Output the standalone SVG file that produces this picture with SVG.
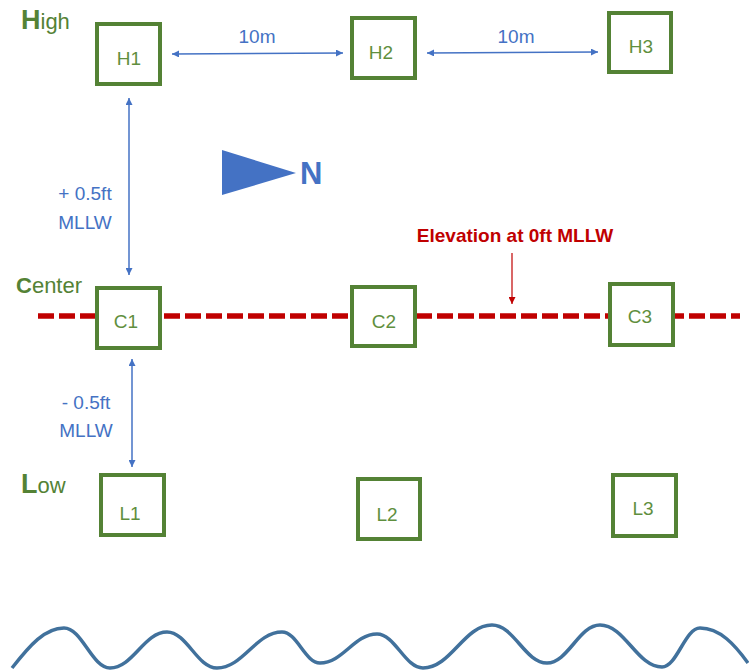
<svg xmlns="http://www.w3.org/2000/svg" width="749" height="672" viewBox="0 0 749 672">
<style>
.box{fill:#fff;stroke:#548235;stroke-width:4}
.nl{font-family:"Liberation Sans",Arial,sans-serif;font-size:19px;fill:#5f8f3e;text-anchor:middle}
.row{font-family:"Liberation Sans",Arial,sans-serif;fill:#548235}
.bl{font-family:"Liberation Sans",Arial,sans-serif;font-size:19px;fill:#4472C4;text-anchor:middle}
.conn{stroke:#4472C4;stroke-width:1.5;fill:none}
</style>
<defs>
<marker id="ab" viewBox="0 0 10 10" refX="10" refY="5" markerWidth="7" markerHeight="7" markerUnits="userSpaceOnUse" orient="auto-start-reverse"><path d="M0,0 L10,5 L0,10 z" fill="#4472C4"/></marker>
<marker id="ar" viewBox="0 0 10 10" refX="10" refY="5" markerWidth="7" markerHeight="7" markerUnits="userSpaceOnUse" orient="auto"><path d="M0,0 L10,5 L0,10 z" fill="#C00000"/></marker>
</defs>
<rect width="749" height="672" fill="#fff"/>
<g id="elevation-line">
<line x1="38" y1="316" x2="740" y2="316" stroke="#C00000" stroke-width="5.5" stroke-dasharray="16 5"/>
</g>
<g id="row-labels">
<text class="row" x="21" y="29"><tspan font-weight="bold" font-size="27">H</tspan><tspan font-size="22">igh</tspan></text>
<text class="row" x="16" y="293"><tspan font-weight="bold" font-size="22">C</tspan><tspan font-size="22">enter</tspan></text>
<text class="row" x="21" y="493"><tspan font-weight="bold" font-size="27">L</tspan><tspan font-size="22">ow</tspan></text>
</g>
<g id="H1"><rect class="box" x="97" y="24" width="63" height="60"/><text class="nl" x="129" y="65">H1</text></g>
<g id="H2"><rect class="box" x="352" y="18" width="63" height="60"/><text class="nl" x="381" y="59">H2</text></g>
<g id="H3"><rect class="box" x="609" y="13" width="62" height="59"/><text class="nl" x="641" y="53">H3</text></g>
<g id="C1"><rect class="box" x="97" y="288" width="63" height="60"/><text class="nl" x="126" y="328">C1</text></g>
<g id="C2"><rect class="box" x="352" y="287" width="63" height="59"/><text class="nl" x="384" y="328">C2</text></g>
<g id="C3"><rect class="box" x="610" y="284" width="63" height="61"/><text class="nl" x="640" y="323">C3</text></g>
<g id="L1"><rect class="box" x="101" y="475" width="63" height="60"/><text class="nl" x="130" y="520">L1</text></g>
<g id="L2"><rect class="box" x="358" y="479" width="62" height="60"/><text class="nl" x="387" y="521">L2</text></g>
<g id="L3"><rect class="box" x="613" y="475" width="63" height="61"/><text class="nl" x="643" y="515">L3</text></g>
<g id="connectors">
<line class="conn" x1="172" y1="54" x2="343" y2="53" marker-start="url(#ab)" marker-end="url(#ab)"/>
<line class="conn" x1="427" y1="53" x2="598" y2="52" marker-start="url(#ab)" marker-end="url(#ab)"/>
<line class="conn" x1="129" y1="98" x2="129" y2="275" marker-start="url(#ab)" marker-end="url(#ab)"/>
<line class="conn" x1="132" y1="359" x2="132" y2="467" marker-start="url(#ab)" marker-end="url(#ab)"/>
<line x1="512" y1="253" x2="512" y2="304" stroke="#C00000" stroke-width="1.2" marker-end="url(#ar)"/>
</g>
<g id="labels">
<text class="bl" x="257" y="43">10m</text>
<text class="bl" x="516" y="43">10m</text>
<text class="bl" x="85" y="200">+ 0.5ft</text>
<text class="bl" x="85" y="229">MLLW</text>
<text class="bl" x="86" y="409">- 0.5ft</text>
<text class="bl" x="86" y="437">MLLW</text>
<text x="515" y="242" font-family="Liberation Sans,Arial,sans-serif" font-size="19" font-weight="bold" fill="#C00000" text-anchor="middle">Elevation at 0ft MLLW</text>
</g>
<g id="north">
<polygon points="222,150 222,195 296,173" fill="#4472C4"/>
<text x="300" y="184" font-family="Liberation Sans,Arial,sans-serif" font-size="31" font-weight="bold" fill="#4472C4">N</text>
</g>
<g id="wave">
<path d="M12,668 C30,645 45,628 64,628 C82,628 92,668 110,668 C133,668 144,632 167,632 C187,632 197,668 217,668 C243,668 256,632 282,632 C297,632 305,663 320,663 C343,663 354,634 377,634 C395,634 405,668 423,668 C451,668 464,625 492,625 C514,625 525,663 547,663 C568,663 579,625 600,625 C625,625 637,667 662,667 C677,667 685,628 700,628 C720,628 735,645 748,663" fill="none" stroke="#41719C" stroke-width="3.5"/>
</g>
</svg>
